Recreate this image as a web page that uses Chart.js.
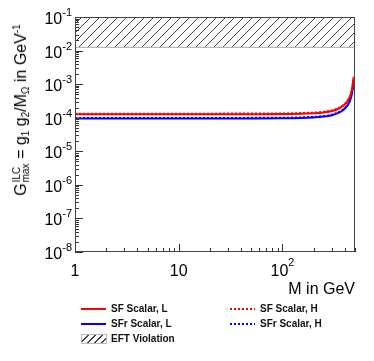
<!DOCTYPE html>
<html>
<head>
<meta charset="utf-8">
<script src="https://cdn.jsdelivr.net/npm/chart.js@4"></script>
<style>
  body { margin: 0; background: #fff; font-family: "Liberation Sans", Arial, sans-serif; }
  #wrap { position: relative; width: 374px; height: 361px; overflow: hidden; }
  #chart { position: absolute; left: 0; top: 0; }
  .ytitle {
    position: absolute; left: 22px; top: 110px;
    font-size: 16px; line-height: 18px; white-space: nowrap; color: #000;
    transform: translate(-50%, -50%) rotate(-90deg);
  }
  .ytitle .sb { font-size: 10px; position: relative; top: 3px; }
  .ytitle .sp { font-size: 10px; position: relative; top: -6px; }
  .stack { display: inline-block; position: relative; width: 20px; height: 0; }
  .stack span { position: absolute; left: 1px; font-size: 10px; line-height: 10px; }
  .stack .up { top: -14px; }
  .stack .dn { top: -5px; }
  .xtitle { position: absolute; right: 19px; top: 280px; font-size: 16px; line-height: 18px; }
  .legend { position: absolute; font-size: 10px; font-weight: bold; color: #111; line-height: 12px; }
  .legend .row { position: absolute; white-space: nowrap; }
  .legend .sample { position: absolute; left: 0; width: 25px; height: 2px; top: 5px; }
  .legend .lbl { position: absolute; left: 30px; top: 0; }
  .solid-red { background: #ff0000; }
  .solid-blue { background: #0000ff; }
  .dash-red { background: repeating-linear-gradient(90deg, #ff0000 0 2px, transparent 2px 4px); }
  .dash-blue { background: repeating-linear-gradient(90deg, #0000ff 0 2px, transparent 2px 4px); }
  .hatch {
    position: absolute; left: 0; top: 1px; width: 24px; height: 8px; border: 1px solid #bbb;
    background: repeating-linear-gradient(135deg, #fff 0 4px, #444 4px 5px);
  }
</style>
</head>
<body>
<div id="wrap">
  <canvas id="chart" width="374" height="361"></canvas>
  <div class="ytitle">G<span class="stack"><span class="up">ILC</span><span class="dn">max</span></span> = g<span class="sb">1</span> g<span class="sb">2</span>/M<span class="sb">&Omega;</span> in GeV<span class="sp">-1</span></div>
  <div class="xtitle">M in GeV</div>
  <div class="legend">
    <div class="row" style="left:81px; top:303px;"><div class="sample solid-red"></div><div class="lbl">SF Scalar, L</div></div>
    <div class="row" style="left:230px; top:303px;"><div class="sample dash-red"></div><div class="lbl">SF Scalar, H</div></div>
    <div class="row" style="left:81px; top:318px;"><div class="sample solid-blue"></div><div class="lbl">SFr Scalar, L</div></div>
    <div class="row" style="left:230px; top:318px;"><div class="sample dash-blue"></div><div class="lbl">SFr Scalar, H</div></div>
    <div class="row" style="left:81px; top:333px;"><div class="hatch"></div><div class="lbl">EFT Violation</div></div>
  </div>
</div>
<script>
// mass points (GeV) and the four curves
const massGeV = [1, 10, 50, 100, 150, 200, 250, 300, 350, 390, 420, 440, 455, 465, 475, 485];
const sfScalarL = [1.26e-4, 1.26e-4, 1.27e-4, 1.28e-4, 1.31e-4, 1.36e-4, 1.44e-4, 1.58e-4, 1.88e-4, 2.35e-4, 3.0e-4, 3.8e-4, 5.0e-4, 6.5e-4, 9.5e-4, 1.6e-3];
const sfScalarH = [1.32e-4, 1.32e-4, 1.33e-4, 1.34e-4, 1.37e-4, 1.42e-4, 1.5e-4, 1.65e-4, 1.96e-4, 2.45e-4, 3.1e-4, 3.95e-4, 5.2e-4, 6.7e-4, 9.8e-4, 1.65e-3];
const sfrScalarL = [9.4e-5, 9.4e-5, 9.5e-5, 9.6e-5, 9.8e-5, 1.02e-4, 1.08e-4, 1.19e-4, 1.41e-4, 1.76e-4, 2.25e-4, 2.85e-4, 3.75e-4, 4.9e-4, 7.2e-4, 1.25e-3];
const sfrScalarH = [9.8e-5, 9.8e-5, 9.9e-5, 1.0e-4, 1.02e-4, 1.06e-4, 1.12e-4, 1.24e-4, 1.47e-4, 1.83e-4, 2.33e-4, 2.95e-4, 3.9e-4, 5.1e-4, 7.5e-4, 1.3e-3];

// EFT violation band
const eftMass = [1, 500];
const eftTop = [1e-1, 1e-1];
const eftBottom = [1.25e-2, 1.25e-2];

// axis ranges and labelled ticks
const xMin = 1, xMax = 500;
const yMin = 1e-8, yMax = 1e-1;
const xTickLabels = [[1, '1', ''], [10, '10', ''], [100, '10', '2']];
const yTickExps = [-8, -7, -6, -5, -4, -3, -2, -1];

const pts = (xs, ys) => xs.map((x, i) => ({ x: x, y: ys[i] }));

function hatchPattern() {
    const c = document.createElement('canvas');
    c.width = 9; c.height = 9;
    const g = c.getContext('2d');
    g.strokeStyle = '#444';
    g.lineWidth = 1;
    g.beginPath();
    g.moveTo(0, 9); g.lineTo(9, 0);
    g.moveTo(-4.5, 4.5); g.lineTo(4.5, -4.5);
    g.moveTo(4.5, 13.5); g.lineTo(13.5, 4.5);
    g.stroke();
    return g.createPattern(c, 'repeat');
}

const FONT = '"Liberation Sans", Arial, sans-serif';

const rootAxes = {
    id: 'rootAxes',
    afterDatasetsDraw(chart) {
        const { ctx, chartArea: a, scales: { x, y } } = chart;
        ctx.save();
        ctx.strokeStyle = '#333';
        ctx.lineWidth = 1;
        ctx.beginPath();
        // y ticks, inward
        for (let e = -8; e <= -1; e++) {
            for (let m = 1; m < 10; m++) {
                const v = m * Math.pow(10, e);
                if (v > yMax * 1.0001) break;
                const py = Math.round(y.getPixelForValue(v)) + 0.5;
                const len = m === 1 ? 8 : 4;
                ctx.moveTo(a.left, py); ctx.lineTo(a.left + len, py);
            }
        }
        // x ticks, inward
        for (let e = 0; e <= 2; e++) {
            for (let m = 1; m < 10; m++) {
                const v = m * Math.pow(10, e);
                if (v > xMax) break;
                const px = Math.round(x.getPixelForValue(v)) + 0.5;
                const len = m === 1 ? 8 : 4;
                ctx.moveTo(px, a.bottom); ctx.lineTo(px, a.bottom - len);
            }
        }
        ctx.stroke();
        ctx.strokeStyle = '#444';
        ctx.strokeRect(a.left + 0.5, a.top + 0.5, a.right - a.left - 1, a.bottom - a.top - 1);

        // labels
        ctx.fillStyle = '#000';
        ctx.textBaseline = 'alphabetic';
        yTickExps.forEach(e => {
            const py = y.getPixelForValue(Math.pow(10, e));
            const exp = String(e);
            ctx.font = '11px ' + FONT;
            const ew = ctx.measureText(exp).width;
            ctx.textAlign = 'left';
            ctx.fillText(exp, 72 - ew, py - 1);
            ctx.font = '16px ' + FONT;
            ctx.textAlign = 'right';
            ctx.fillText('10', 72 - ew, py + 7);
        });
        xTickLabels.forEach(([v, base, exp]) => {
            const px = x.getPixelForValue(v);
            ctx.font = '16px ' + FONT;
            const bw = ctx.measureText(base).width;
            ctx.font = '11px ' + FONT;
            const ew = exp ? ctx.measureText(exp).width : 0;
            const left = px - (bw + ew) / 2;
            ctx.textAlign = 'left';
            ctx.font = '16px ' + FONT;
            ctx.fillText(base, left, 276);
            if (exp) {
                ctx.font = '11px ' + FONT;
                ctx.fillText(exp, left + bw, 266);
            }
        });
        ctx.restore();
    }
};

const line = (label, data, color, dashed) => ({
    label: label,
    data: data,
    borderColor: color,
    borderWidth: 2,
    borderDash: dashed ? [2, 2] : [],
    pointRadius: 0,
    fill: false,
    cubicInterpolationMode: 'monotone'
});

new Chart(document.getElementById('chart'), {
    type: 'line',
    data: {
        datasets: [
            line('SF Scalar, H', pts(massGeV, sfScalarH), '#ff0000', true),
            line('SF Scalar, L', pts(massGeV, sfScalarL), '#ff0000', false),
            line('SFr Scalar, H', pts(massGeV, sfrScalarH), '#0000ff', true),
            line('SFr Scalar, L', pts(massGeV, sfrScalarL), '#0000ff', false),
            {
                label: 'EFT Violation',
                data: pts(eftMass, eftBottom),
                borderColor: '#aaa',
                borderWidth: 1,
                pointRadius: 0,
                backgroundColor: hatchPattern(),
                fill: '+1'
            },
            {
                label: 'EFT top',
                data: pts(eftMass, eftTop),
                borderColor: '#aaa',
                borderWidth: 1,
                pointRadius: 0,
                fill: false
            }
        ]
    },
    options: {
        responsive: false,
        animation: false,
        layout: { padding: { top: 17, right: 19, left: 0, bottom: 0 } },
        plugins: { legend: { display: false }, tooltip: { enabled: false } },
        scales: {
            x: {
                type: 'logarithmic', min: xMin, max: xMax,
                grid: { display: false }, ticks: { display: false }, border: { display: false },
                afterFit(s) { s.height = 109; }
            },
            y: {
                type: 'logarithmic', min: yMin, max: yMax,
                grid: { display: false }, ticks: { display: false }, border: { display: false },
                afterFit(s) { s.width = 75; }
            }
        }
    },
    plugins: [rootAxes]
});
</script>
</body>
</html>
